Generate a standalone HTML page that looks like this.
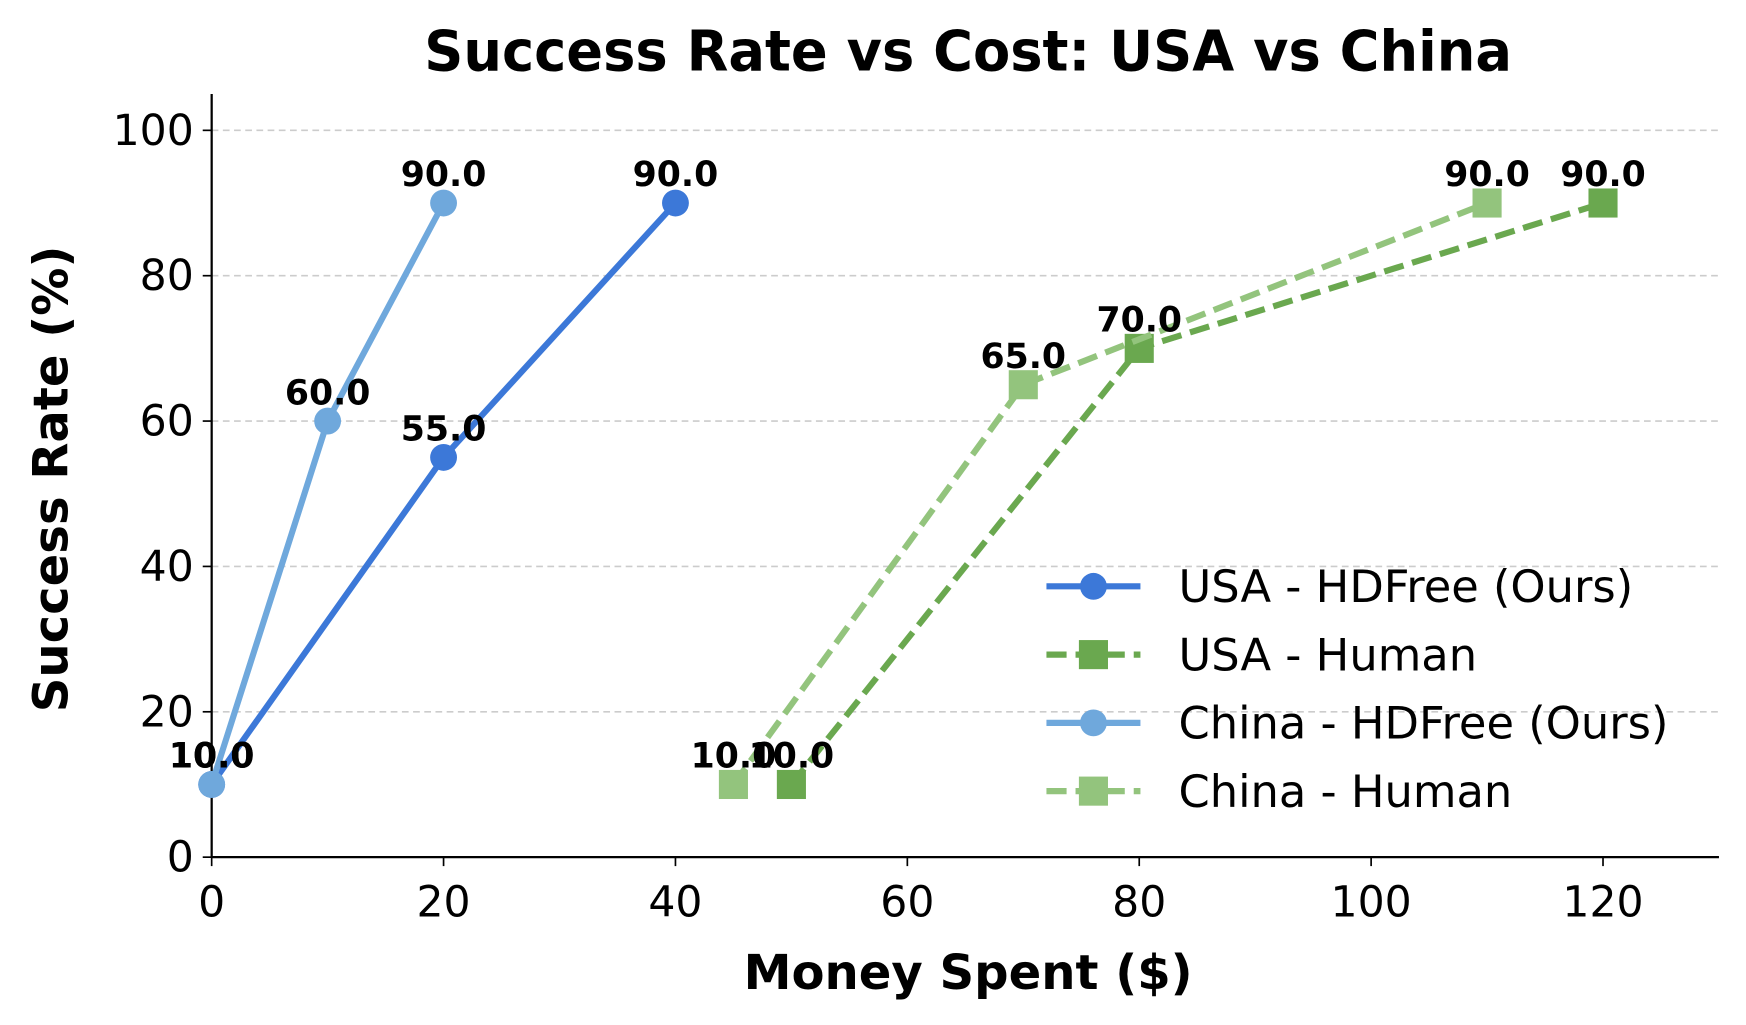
<!DOCTYPE html>
<html><head><meta charset="utf-8"><style>
html,body{margin:0;padding:0;background:#fff;}
svg{display:block;font-family:"DejaVu Sans","Liberation Sans",sans-serif;}
</style></head><body>
<svg id="chart" width="1746" height="1025" viewBox="0 0 1560 916" xmlns="http://www.w3.org/2000/svg">
<text x="865" y="63" text-anchor="middle" font-size="50" font-weight="bold" textLength="972" lengthAdjust="spacingAndGlyphs">Success Rate vs Cost: USA vs China</text>
<g id="grid"></g><g id="axes"></g><g id="series"></g><g id="legend"></g>
<text x="865" y="884" text-anchor="middle" font-size="43" font-weight="bold">Money Spent ($)</text>
<text transform="translate(60,428) rotate(-90)" text-anchor="middle" font-size="43" font-weight="bold">Success Rate (%)</text>
</svg>
<script>
const xTicks=[0,20,40,60,80,100,120];
const yTicks=[0,20,40,60,80,100];
const usaHdX=[0,20,40], usaHdY=[10,55,90];
const chinaHdX=[0,10,20], chinaHdY=[10,60,90];
const usaHumanX=[50,80,120], usaHumanY=[10,70,90];
const chinaHumanX=[45,70,110], chinaHumanY=[10,65,90];
const seriesNames=["USA - HDFree (Ours)","USA - Human","China - HDFree (Ours)","China - Human"];

const NS="http://www.w3.org/2000/svg";
const X0=189,X1=1536,Y0=766,Y1=84;
const xs=v=>X0+(v-0)/130*(X1-X0);
const ys=v=>Y0-(v-0)/105*(Y0-Y1);
function mk(tag,attrs,parent){const e=document.createElementNS(NS,tag);for(const k in attrs)e.setAttribute(k,attrs[k]);parent.appendChild(e);return e;}
const grid=document.getElementById('grid'),axes=document.getElementById('axes'),ser=document.getElementById('series'),leg=document.getElementById('legend');
yTicks.forEach(t=>{
 if(t>0){const g=mk('line',{x1:X0,x2:X1,y1:ys(t),y2:ys(t),stroke:'#cccccc','stroke-width':1.5,'stroke-dasharray':'6,4'},grid);
 
 }
 const tk=mk('line',{x1:X0-8,x2:X0,y1:ys(t),y2:ys(t),stroke:'#000','stroke-width':1.5},axes);
 
 
 const tx=mk('text',{x:X0-16,y:ys(t)+13,'text-anchor':'end','font-size':38},axes);tx.textContent=t;
 
 
});
xTicks.forEach(t=>{
 const tk=mk('line',{x1:xs(t),x2:xs(t),y1:Y0,y2:Y0+8,stroke:'#000','stroke-width':1.5},axes);
 
 
 const tx=mk('text',{x:xs(t),y:Y0+53,'text-anchor':'middle','font-size':38},axes);tx.textContent=t;
 
 
});
const ls=mk('line',{x1:X0,x2:X0,y1:Y1,y2:Y0,stroke:'#000','stroke-width':2},axes);


const bs=mk('line',{x1:X0,x2:X1,y1:Y0,y2:Y0,stroke:'#000','stroke-width':2},axes);



const defs=[
 {x:usaHdX,y:usaHdY,c:'#3c78d8',dash:null,m:'circle'},
 {x:usaHumanX,y:usaHumanY,c:'#6aa84f',dash:'18,8',m:'square'},
 {x:chinaHdX,y:chinaHdY,c:'#6fa8dc',dash:null,m:'circle'},
 {x:chinaHumanX,y:chinaHumanY,c:'#93c47d',dash:'18,8',m:'square'}];
function marker(m,cx,cy,c,parent){
 if(m==='circle')return mk('circle',{cx:cx,cy:cy,r:12,fill:c},parent);
 return mk('rect',{x:cx-13,y:cy-13,width:26,height:26,fill:c},parent);
}
const order=[0,1,2,3];
order.forEach(i=>{
 const d=defs[i];
 const pts=d.x.map((v,j)=>xs(v)+','+ys(d.y[j])).join(' ');
 const pl=mk('polyline',{points:pts,fill:'none',stroke:d.c,'stroke-width':5.5},ser);
 if(d.dash)pl.setAttribute('stroke-dasharray',d.dash);
 
 
 d.x.forEach((v,j)=>{
  const mm=marker(d.m,xs(v),ys(d.y[j]),d.c,ser);
  
  
 });
});
order.forEach(i=>{
 const d=defs[i];
 d.x.forEach((v,j)=>{
  const t=mk('text',{x:xs(v),y:ys(d.y[j])-15,'text-anchor':'middle','font-size':31,'font-weight':'bold'},ser);
  t.textContent=d.y[j].toFixed(1);
  
  
 });
});
seriesNames.forEach((n,i)=>{
 const d=defs[i],y=524+i*61;
 const g=mk('g',{},leg);
 
 
 const l=mk('line',{x1:935,x2:1019,y1:y,y2:y,stroke:d.c,'stroke-width':5.5},g);
 if(d.dash)l.setAttribute('stroke-dasharray','18,8');
 marker(d.m,977,y,d.c,g);
 const t=mk('text',{x:1053,y:y+14,'font-size':40},g);t.textContent=n;
});
</script>
</body></html>
